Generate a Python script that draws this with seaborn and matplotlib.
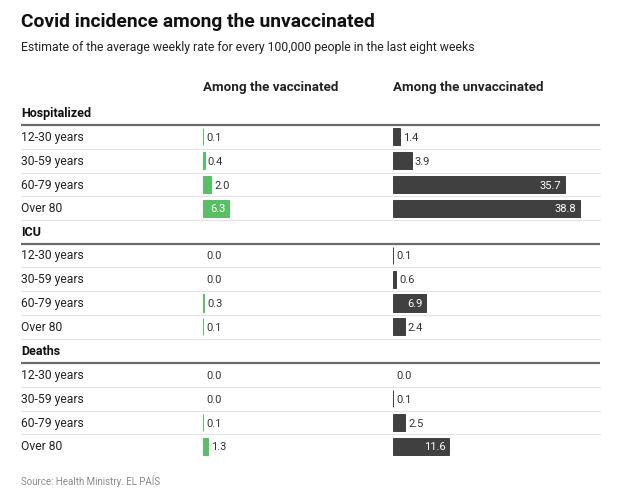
import matplotlib
matplotlib.use("Agg")
import matplotlib.pyplot as plt
import seaborn as sns
import pandas as pd

sns.set_theme(style="white")
plt.rcParams['font.family'] = ['Roboto', 'DejaVu Sans']

# ---------------- data ----------------
title = "Covid incidence among the unvaccinated"
subtitle = "Estimate of the average weekly rate for every 100,000 people in the last eight weeks"
source = "Source: Health Ministry. EL PAÍS"
col_headers = ["Among the vaccinated", "Among the unvaccinated"]
sections = ["Hospitalized", "ICU", "Deaths"]
ages = ["12-30 years", "30-59 years", "60-79 years", "Over 80"]

hosp_vacc = [0.1, 0.4, 2.0, 6.3]
hosp_unvacc = [1.4, 3.9, 35.7, 38.8]
icu_vacc = [0.0, 0.0, 0.3, 0.1]
icu_unvacc = [0.1, 0.6, 6.9, 2.4]
deaths_vacc = [0.0, 0.0, 0.1, 1.3]
deaths_unvacc = [0.0, 0.1, 2.5, 11.6]

values = {
    "Hospitalized": (hosp_vacc, hosp_unvacc),
    "ICU": (icu_vacc, icu_unvacc),
    "Deaths": (deaths_vacc, deaths_unvacc),
}

# ---------------- style / layout ----------------
W, H = 640, 500
GREEN = "#57c066"
DARK = "#404040"
TEXT = "#222222"
fig = plt.figure(figsize=(W / 100, H / 100), dpi=100)
bg = fig.add_axes([0, 0, 1, 1])
bg.set_xlim(0, W)
bg.set_ylim(H, 0)
bg.axis("off")

left, right = 21, 600
section_top = {"Hospitalized": 125, "ICU": 243.5, "Deaths": 363}
row_h = 23.8
col_x = [203, 393]
col_w = [177.5, 207]
XMAX = 43

bg.text(left, 27, title, fontsize=13.9, fontweight="bold", color="#111111", va="baseline")
bg.text(left, 51, subtitle, fontsize=8.8, color=TEXT, va="baseline")
for cx, hdr in zip(col_x, col_headers):
    bg.text(cx, 91, hdr, fontsize=9.65, fontweight="bold", color=TEXT, va="baseline")
bg.text(left, 485, source, fontsize=7, color="#8a8a8a", va="baseline")

for si, sec in enumerate(sections):
    top = section_top[sec]
    bg.text(left, top - 8, sec, fontsize=9, fontweight="bold", color="#111111", va="baseline")
    bg.plot([left, right], [top, top], color="#6b6b6b", lw=1.6, solid_capstyle="butt")
    nsep = 4 if si < len(sections) - 1 else 3
    for r in range(nsep):
        ys = top + row_h * (r + 1)
        bg.plot([left, right], [ys, ys], color="#e3e3e3", lw=0.8)
    for r, age in enumerate(ages):
        bg.text(left, top + row_h * (r + 0.5) + 4, age, fontsize=8.75, color=TEXT, va="baseline")

    for ci in range(2):
        vals = values[sec][ci]
        df = pd.DataFrame({"age": ages, "value": vals})
        ax = fig.add_axes([col_x[ci] / W, 1 - (top + 4 * row_h) / H,
                           col_w[ci] / W, 4 * row_h / H])
        color = GREEN if ci == 0 else DARK
        sns.barplot(data=df, x="value", y="age", orient="h", color=color,
                    width=0.72, ax=ax, saturation=1)
        ax.set_xlim(0, XMAX)
        ax.set_ylim(3.5, -0.5)
        ax.axis("off")
        px_per_unit = col_w[ci] / XMAX
        for patch, v in zip(ax.patches, vals):
            w = patch.get_width()
            patch.set_edgecolor(color)
            patch.set_linewidth(0.7 if w > 0 else 0)
            yc = patch.get_y() + patch.get_height() / 2
            if w * px_per_unit > 24:
                ax.annotate(f"{v:.1f}", xy=(w, yc), xytext=(-2.5, -2.9),
                            textcoords="offset points", ha="right", va="baseline",
                            fontsize=8, color="white")
            else:
                ax.annotate(f"{v:.1f}", xy=(w, yc), xytext=(2.2, -2.9),
                            textcoords="offset points", ha="left", va="baseline",
                            fontsize=8, color="#333333")

fig.savefig("out.png", dpi=100)
